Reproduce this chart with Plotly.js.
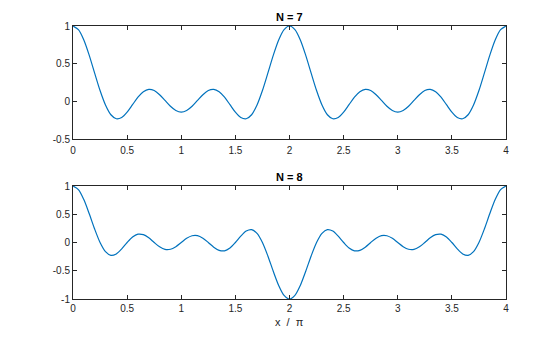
<!DOCTYPE html>
<html>
<head>
<meta charset="utf-8">
<script src="https://cdn.plot.ly/plotly-3.0.1.min.js"></script>
<style>html,body{margin:0;padding:0;background:#fff;}#chart{width:560px;height:337px;}</style>
</head>
<body>
<div id="chart"></div>
<script>
// x / pi sample positions
var xVals = [0,0.05,0.1,0.15,0.2,0.25,0.3,0.35,0.4,0.45,0.5,0.55,0.6,0.65,0.7,0.75,0.8,0.85,0.9,0.95,
  1,1.05,1.1,1.15,1.2,1.25,1.3,1.35,1.4,1.45,1.5,1.55,1.6,1.65,1.7,1.75,1.8,1.85,1.9,1.95,
  2,2.05,2.1,2.15,2.2,2.25,2.3,2.35,2.4,2.45,2.5,2.55,2.6,2.65,2.7,2.75,2.8,2.85,2.9,2.95,
  3,3.05,3.1,3.15,3.2,3.25,3.3,3.35,3.4,3.45,3.5,3.55,3.6,3.65,3.7,3.75,3.8,3.85,3.9,3.95,4];

// N = 7 curve
var yN7 = [1,0.951,0.814,0.610,0.374,0.143,-0.049,-0.178,-0.231,-0.214,-0.143,-0.044,0.055,0.127,0.158,0.143,0.088,0.012,-0.066,-0.122,
  -0.143,-0.122,-0.066,0.012,0.088,0.143,0.158,0.127,0.055,-0.044,-0.143,-0.214,-0.231,-0.178,-0.049,0.143,0.374,0.610,0.814,0.951,
  1,0.951,0.814,0.610,0.374,0.143,-0.049,-0.178,-0.231,-0.214,-0.143,-0.044,0.055,0.127,0.158,0.143,0.088,0.012,-0.066,-0.122,
  -0.143,-0.122,-0.066,0.012,0.088,0.143,0.158,0.127,0.055,-0.044,-0.143,-0.214,-0.231,-0.178,-0.049,0.143,0.374,0.610,0.814,0.951,1];

// N = 8 curve
var yN8 = [1,0.937,0.760,0.509,0.238,0,-0.162,-0.228,-0.202,-0.113,0,0.097,0.147,0.139,0.083,0,-0.077,-0.122,-0.120,-0.074,
  0,0.074,0.120,0.122,0.077,0,-0.083,-0.139,-0.147,-0.097,0,0.113,0.202,0.228,0.162,0,-0.238,-0.509,-0.760,-0.937,
  -1,-0.937,-0.760,-0.509,-0.238,0,0.162,0.228,0.202,0.113,0,-0.097,-0.147,-0.139,-0.083,0,0.077,0.122,0.120,0.074,
  0,-0.074,-0.120,-0.122,-0.077,0,0.083,0.139,0.147,0.097,0,-0.113,-0.202,-0.228,-0.162,0,0.238,0.509,0.760,0.937,1];

var xTicks = [0,0.5,1,1.5,2,2.5,3,3.5,4];
var xTickText = ['0','0.5','1','1.5','2','2.5','3','3.5','4'];
var yTicksTop = [-0.5,0,0.5,1];
var yTickTextTop = ['-0.5','0','0.5','1'];
var yTicksBot = [-1,-0.5,0,0.5,1];
var yTickTextBot = ['-1','-0.5','0','0.5','1'];
var titles = ['N = 7','N = 8'];
var xLabel = 'x  /  \u03c0';

var lineStyle = {color:'#0072BD', width:1.2, shape:'spline', smoothing:0.8};
var traces = [
  {x:xVals, y:yN7, type:'scatter', mode:'lines', line:lineStyle, xaxis:'x', yaxis:'y', hoverinfo:'none'},
  {x:xVals, y:yN8, type:'scatter', mode:'lines', line:lineStyle, xaxis:'x2', yaxis:'y2', hoverinfo:'none'}
];

var axCommon = {
  showline:true, linecolor:'#262626', linewidth:1, mirror:'ticks',
  ticks:'inside', ticklen:4, tickwidth:1, tickcolor:'#262626',
  showgrid:false, zeroline:false, tickmode:'array',
  tickfont:{family:'Liberation Sans, Arial, sans-serif', size:10, color:'#262626'}
};
function ax(extra){ return Object.assign({}, axCommon, extra); }

var xDom = [73/560, 506/560];
var layout = {
  width:560, height:337,
  margin:{l:0,r:0,t:0,b:0},
  paper_bgcolor:'#ffffff', plot_bgcolor:'#ffffff',
  showlegend:false,
  xaxis: ax({domain:xDom, range:[0,4], tickvals:xTicks, ticktext:xTickText, anchor:'y', ticklabelstandoff:2}),
  yaxis: ax({domain:[1-139/337, 1-26/337], range:[-0.5,1], tickvals:yTicksTop, ticktext:yTickTextTop, anchor:'x'}),
  xaxis2: ax({domain:xDom, range:[0,4], tickvals:xTicks, ticktext:xTickText, anchor:'y2'}),
  yaxis2: ax({domain:[1-299/337, 1-186/337], range:[-1,1], tickvals:yTicksBot, ticktext:yTickTextBot, anchor:'x2'}),
  annotations:[
    {text:'<b>'+titles[0]+'</b>', xref:'paper', yref:'paper', x:(73+506)/2/560, y:1-17/337, xanchor:'center', yanchor:'middle', showarrow:false, font:{family:'Liberation Sans, Arial, sans-serif', size:11, color:'#000'}},
    {text:'<b>'+titles[1]+'</b>', xref:'paper', yref:'paper', x:(73+506)/2/560, y:1-177/337, xanchor:'center', yanchor:'middle', showarrow:false, font:{family:'Liberation Sans, Arial, sans-serif', size:11, color:'#000'}},
    {text:xLabel, xref:'paper', yref:'paper', x:(73+506)/2/560, y:1-322/337, xanchor:'center', yanchor:'middle', showarrow:false, font:{family:'Liberation Sans, Arial, sans-serif', size:11, color:'#262626'}}
  ]
};

Plotly.newPlot('chart', traces, layout, {staticPlot:true, displayModeBar:false});
</script>
</body>
</html>
